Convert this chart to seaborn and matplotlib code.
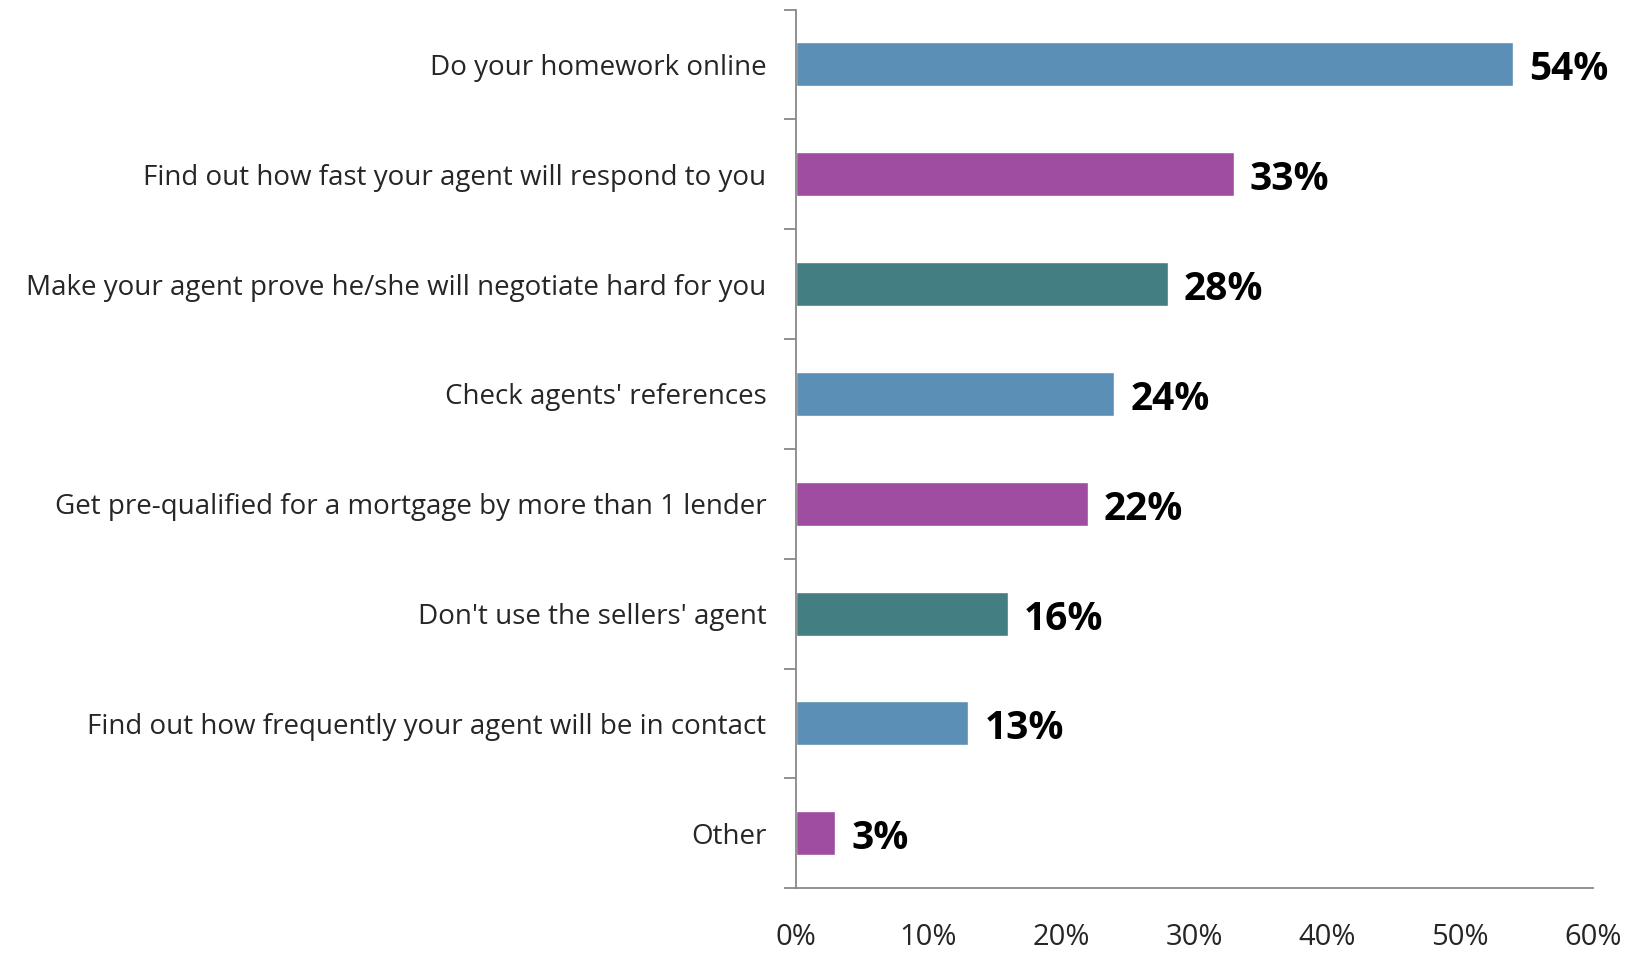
import numpy as np
import pandas as pd
import seaborn as sns
import matplotlib.pyplot as plt
from matplotlib.ticker import FixedLocator, NullFormatter

# data
categories = ['Do your homework online',
              'Find out how fast your agent will respond to you',
              'Make your agent prove he/she will negotiate hard for you',
              "Check agents' references",
              'Get pre-qualified for a mortgage by more than 1 lender',
              "Don't use the sellers' agent",
              'Find out how frequently your agent will be in contact',
              'Other']
values = [54, 33, 28, 24, 22, 16, 13, 3]
bar_colors = ['#5b8fb5', '#9e4da0', '#437e83', '#5b8fb5', '#9e4da0', '#437e83', '#5b8fb5', '#9e4da0']
xticks = [0, 10, 20, 30, 40, 50, 60]

df = pd.DataFrame({'Tip': categories, 'Share': values})

sns.set_style('white')
plt.rcParams['font.family'] = ['Open Sans', 'DejaVu Sans']

fig = plt.figure(figsize=(16.37, 9.55), dpi=100)
ax = fig.add_axes([0.486, 0.070, 0.487, 0.92])

sns.barplot(data=df, x='Share', y='Tip', hue='Tip', palette=bar_colors,
            orient='h', width=0.4, legend=False, ax=ax, saturation=1)

for i, v in enumerate(values):
    ax.text(v + 1.2, i + 0.05, '{}%'.format(v), va='center', ha='left',
            fontsize=28, fontweight='bold', color='black')

ax.set_xlim(0, 60)
ax.set_ylim(len(categories) - 0.5, -0.5)
ax.set_xticks(xticks)
ax.set_xticklabels(['{}%'.format(t) for t in xticks], fontsize=21)
ax.tick_params(axis='x', direction='out', length=12, width=1.3, color='#888888', pad=13)

# category labels centred on bars, tick marks between them
ax.set_yticks(range(len(categories)))
ax.set_yticklabels(categories, fontsize=20)
ax.tick_params(axis='y', which='major', length=0, pad=21)
ax.yaxis.set_minor_locator(FixedLocator(np.arange(-0.5, len(categories), 1.0)))
ax.yaxis.set_minor_formatter(NullFormatter())
ax.tick_params(axis='y', which='minor', direction='out', length=9, width=1.3, color='#888888', left=True)

ax.set_xlabel('')
ax.set_ylabel('')
for s in ['top', 'right']:
    ax.spines[s].set_visible(False)
for s in ['left', 'bottom']:
    ax.spines[s].set_color('#888888')
    ax.spines[s].set_linewidth(1.3)

fig.savefig('out.png', dpi=100)
